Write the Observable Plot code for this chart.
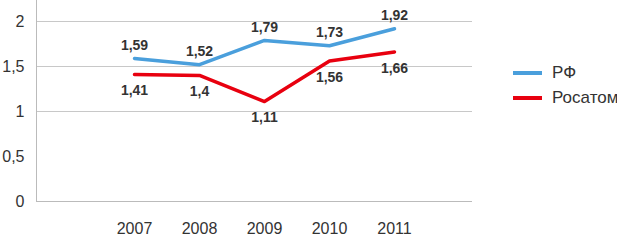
<!DOCTYPE html>
<html>
<head>
<meta charset="utf-8">
<script src="https://cdn.jsdelivr.net/npm/d3@7"></script>
<script src="https://cdn.jsdelivr.net/npm/@observablehq/plot@0.6"></script>
<style>
  body { margin: 0; background: #fff; font-family: "Liberation Sans", Arial, sans-serif; }
  #wrap { position: relative; width: 617px; height: 242px; overflow: hidden; }
  .leg { position: absolute; left: 513px; display: flex; align-items: center; font-size: 17px; color: #333; white-space: nowrap; }
  .leg .sw { width: 29px; height: 4px; margin-right: 10px; }
</style>
</head>
<body>
<div id="wrap"></div>
<script>
const years = ["2007", "2008", "2009", "2010", "2011"];
const rf = [1.59, 1.52, 1.79, 1.73, 1.92];
const rosatom = [1.41, 1.4, 1.11, 1.56, 1.66];
const seriesNames = ["РФ", "Росатом"];
const seriesColors = ["#4a9fdc", "#e8000f"];
const yTicks = [0, 0.5, 1, 1.5, 2];
const gridTicks = [1, 1.5, 2];

const rows = [];
years.forEach((y, i) => {
  rows.push({year: y, value: rf[i], series: seriesNames[0]});
  rows.push({year: y, value: rosatom[i], series: seriesNames[1]});
});
const fmt = v => String(v).replace(".", ",");

const chart = Plot.plot({
  width: 617,
  height: 242,
  marginLeft: 36,
  marginRight: 145,
  marginTop: 0,
  marginBottom: 41,
  style: {fontFamily: "'Liberation Sans', Arial, sans-serif", fontSize: "16px", color: "#333", background: "#fff"},
  x: {type: "point", domain: years, range: [100, 428]},
  y: {domain: [0, 2.2333]},
  color: {domain: seriesNames, range: seriesColors},
  marks: [
    Plot.gridY(gridTicks, {stroke: "#c8c8c8", strokeOpacity: 1}),
    Plot.frame({anchor: "left", stroke: "#bbb"}),
    Plot.ruleY([0], {stroke: "#bbb"}),
    Plot.axisY(yTicks, {tickSize: 0, tickPadding: 12, tickFormat: fmt, fontSize: 16, fill: "#333", label: null}),
    Plot.axisX({tickSize: 0, tickPadding: 21, fontSize: 16, fill: "#333", label: null}),
    Plot.line(rows, {x: "year", y: "value", z: "series", stroke: "series", strokeWidth: 3.5}),
    Plot.text(rows.filter(d => d.series === seriesNames[0]), {x: "year", y: "value", text: d => fmt(d.value), dy: -13, fontWeight: "bold", fontSize: 14, fill: "#333"}),
    Plot.text(rows.filter(d => d.series === seriesNames[1]), {x: "year", y: "value", text: d => fmt(d.value), dy: 16, fontWeight: "bold", fontSize: 14, fill: "#333"})
  ]
});
const wrap = document.getElementById("wrap");
wrap.appendChild(chart);
const legTops = [63, 88];
seriesNames.forEach((n, i) => {
  const d = document.createElement("div");
  d.className = "leg";
  d.style.top = legTops[i] + "px";
  d.innerHTML = `<span class="sw" style="background:${seriesColors[i]}"></span><span>${n}</span>`;
  wrap.appendChild(d);
});
</script>
</body>
</html>
